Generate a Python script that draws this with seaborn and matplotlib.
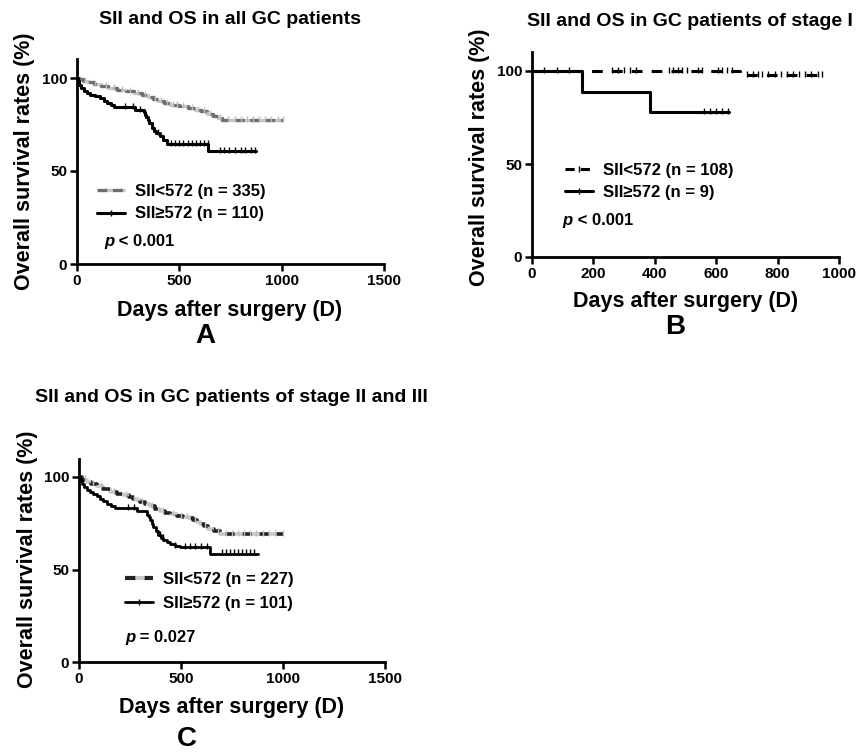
import numpy as np
import pandas as pd
import matplotlib
matplotlib.use("Agg")
import matplotlib.pyplot as plt
import seaborn as sns
from matplotlib.lines import Line2D

W, H = 859, 753

# --- A: all GC patients ---
a_low_t = [0, 10, 30, 55, 85, 115, 150, 195, 240, 280, 320, 345, 370, 395, 425, 455,
           500, 540, 575, 605, 635, 665, 690, 710]
a_low_s = [100, 99.2, 98.4, 97.6, 96.8, 95.6, 94.8, 93.6, 92.8, 91.8, 90.8, 89.8, 88.8,
           87.6, 86.6, 85.6, 84.8, 83.8, 83.0, 82.0, 80.8, 79.6, 78.4, 77.4]
a_low_end = 1005
a_low_cens = [40, 90, 140, 180, 220, 260, 300, 330, 380, 410, 440, 470, 490, 520, 560, 590,
              620, 650, 700, 740, 770, 800, 830, 860, 890, 920, 950, 980, 1005]
a_high_t = [0, 3, 8, 20, 32, 50, 65, 90, 114, 130, 146, 165, 179, 284, 325, 332, 338, 345,
            352, 365, 375, 388, 406, 422, 438, 641]
a_high_s = [100, 98.2, 96.4, 94.5, 92.8, 91.9, 91.0, 90.1, 89.2, 87.8, 86.4, 85.4, 84.4,
            83.0, 81.6, 80.3, 78.8, 77.3, 75.8, 73.1, 71.7, 70.4, 68.6, 66.8, 64.7, 60.6]
a_high_end = 877
a_high_cens = [235, 276, 310, 395, 460, 480, 500, 520, 540, 560, 580, 600, 620, 640,
               700, 720, 745, 770, 800, 820, 850, 870]

# --- B: stage I ---
b_low_t = [0, 677]
b_low_s = [100, 97.6]
b_low_end = 948
b_low_cens = [40, 80, 120, 260, 280, 300, 320, 340, 445, 460, 475, 490, 505, 540, 555,
              605, 620, 635, 650, 700, 720, 735, 750, 770, 790, 810, 830, 850, 870,
              890, 910, 930, 945]
b_high_t = [0, 162, 385]
b_high_s = [100, 88.9, 77.8]
b_high_end = 642
b_high_cens = [560, 580, 600, 620, 640]

# --- C: stage II and III ---
c_low_t = [0, 15, 38, 60, 87, 120, 152, 185, 217, 245, 266, 285, 299, 325, 348, 372, 397,
           420, 446, 480, 511, 540, 560, 580, 593, 612, 634, 662, 691]
c_low_s = [100, 98.6, 97.3, 96.2, 95.0, 93.4, 91.9, 91.0, 90.1, 89.2, 88.3, 87.4, 86.5,
           85.3, 84.1, 82.9, 81.6, 80.7, 79.8, 79.1, 78.4, 77.6, 76.9, 75.8, 74.8, 73.5,
           72.1, 70.8, 69.4]
c_low_end = 1000
c_low_cens = [30, 70, 110, 170, 230, 270, 310, 360, 410, 460, 500, 530, 570, 620, 680,
              720, 750, 780, 810, 840, 870, 900, 930, 960, 1000]
c_high_t = [0, 4, 13, 25, 38, 55, 70, 88, 103, 120, 136, 155, 176, 283, 335, 342, 348, 356,
            364, 376, 389, 401, 413, 430, 446, 470, 495, 642]
c_high_s = [100, 98.2, 96.4, 94.6, 92.8, 91.9, 91.0, 89.6, 88.3, 87.0, 85.6, 84.5, 83.4,
            81.6, 79.7, 78.2, 76.6, 74.8, 73.0, 70.8, 68.5, 67.1, 65.8, 64.7, 63.6, 62.9,
            62.2, 58.6]
c_high_end = 876
c_high_cens = [240, 270, 395, 410, 470, 520, 545, 570, 600, 625, 700, 720, 740, 760, 780,
               800, 820, 840, 860]

sns.set_theme(style="ticks")
plt.rcParams['font.family'] = ['Liberation Sans', 'DejaVu Sans']
plt.rcParams['font.weight'] = 'bold'
plt.rcParams['text.color'] = 'black'
plt.rcParams['axes.labelcolor'] = 'black'
plt.rcParams['xtick.color'] = 'black'
plt.rcParams['ytick.color'] = 'black'


def px_box(x0, y0, x1, y1):
    return [x0 / W, 1 - y1 / H, (x1 - x0) / W, (y1 - y0) / H]


def draw_curve(ax, t, s, t_end, cens, color, lw, dashes=None, gap=None, cens_color=None):
    df = pd.DataFrame({"day": t + [t_end], "surv": s + [s[-1]]})
    sns.lineplot(data=df, x="day", y="surv", ax=ax, color=color, lw=lw,
                 drawstyle="steps-post", estimator=None, sort=False, zorder=3)
    line = ax.lines[-1]
    if dashes:
        line.set_dashes(dashes)
    if gap:
        line.set_gapcolor(gap)
    # survival value at each censor time
    idx = np.searchsorted(t, cens, side="right") - 1
    ys = np.array(s)[idx]
    sns.scatterplot(x=cens, y=ys + 0.6, ax=ax, marker="|", s=16,
                    color=cens_color or color, linewidth=1.0, zorder=4, legend=False)


def style_axes(ax, xmax, xticks):
    ax.set_xlim(0, xmax)
    ax.set_ylim(0, 110)
    ax.set_xticks(xticks)
    ax.set_yticks([0, 50, 100])
    ax.set_xlabel("")
    ax.set_ylabel("")
    sns.despine(ax=ax)
    for sp in ["left", "bottom"]:
        ax.spines[sp].set_linewidth(2)
        ax.spines[sp].set_color("black")
    ax.tick_params(direction="out", length=5, width=1.8, color="black",
                   labelsize=11, labelcolor="black", pad=2)
    for lab in ax.get_xticklabels() + ax.get_yticklabels():
        lab.set_fontweight("bold")


def add_legend(ax, handles, labels, fx, fy, spacing, ptxt, px_, py_):
    leg = ax.legend(handles, labels, loc="center left", bbox_to_anchor=(fx, fy), frameon=False,
                    borderpad=0, borderaxespad=0, handlelength=1.7, handletextpad=0.6,
                    labelspacing=spacing, prop={"weight": "bold", "size": 12})
    for txt in leg.get_texts():
        txt.set_color("black")
    t = ax.text(px_, py_, "p", transform=ax.transAxes, fontsize=12, fontweight="bold",
                style="italic", va="center", ha="left", color="black")
    ax.annotate(ptxt, xy=(1, 0), xycoords=t, va="bottom", ha="left",
                fontsize=12, fontweight="bold", color="black")


fig = plt.figure(figsize=(W / 100, H / 100), dpi=100)

# ---------- A ----------
axA = fig.add_axes(px_box(77, 59.4, 384, 264))
draw_curve(axA, a_low_t, a_low_s, a_low_end, a_low_cens, "#6e6e6e", 2.4,
           dashes=[3, 1.6], gap="#c8c8c8", cens_color="#bdbdbd")
draw_curve(axA, a_high_t, a_high_s, a_high_end, a_high_cens, "black", 2.2)
style_axes(axA, 1500, [0, 500, 1000, 1500])
hA = [Line2D([], [], color="#6e6e6e", lw=2.4, dashes=[3, 1.6], gapcolor="#c8c8c8"),
      Line2D([], [], color="black", lw=2.2, marker="|", markersize=5)]
add_legend(axA, hA, ["SII<572 (n = 335)", "SII\u2265572 (n = 110)"],
           0.065, 0.30, 0.45, " < 0.001", 0.088, 0.108)

# ---------- B ----------
axB = fig.add_axes(px_box(532, 52.4, 839, 257))
draw_curve(axB, b_low_t, b_low_s, b_low_end, b_low_cens, "black", 2.2,
           dashes=[3.5, 3])
draw_curve(axB, b_high_t, b_high_s, b_high_end, b_high_cens, "black", 2.2)
style_axes(axB, 1000, [0, 200, 400, 600, 800, 1000])
hB = [Line2D([], [], color="black", lw=2.2, dashes=[3, 2], marker="|", markersize=4),
      Line2D([], [], color="black", lw=2.2, marker="|", markersize=5)]
add_legend(axB, hB, ["SII<572 (n = 108)", "SII\u2265572 (n = 9)"],
           0.107, 0.369, 0.45, " < 0.001", 0.10, 0.18)

# ---------- C ----------
axC = fig.add_axes(px_box(79, 458.5, 385, 662))
draw_curve(axC, c_low_t, c_low_s, c_low_end, c_low_cens, "#222222", 2.6,
           dashes=[2.5, 2.2], gap="#c8c8c8", cens_color="#bdbdbd")
draw_curve(axC, c_high_t, c_high_s, c_high_end, c_high_cens, "black", 2.0)
style_axes(axC, 1500, [0, 500, 1000, 1500])
hC = [Line2D([], [], color="#222222", lw=3, dashes=[2.5, 2.2], gapcolor="#c8c8c8"),
      Line2D([], [], color="black", lw=2.0, marker="|", markersize=5)]
add_legend(axC, hC, ["SII<572 (n = 227)", "SII\u2265572 (n = 101)"],
           0.15, 0.346, 0.55, " = 0.027", 0.15, 0.118)

# ---------- titles, axis labels, panel letters ----------
def ftext(x, y, s, size, rot=0):
    fig.text(x / W, 1 - y / H, s, fontsize=size, fontweight="bold", rotation=rot,
             ha="center", va="center", color="black")


ftext(230, 20, "SII and OS in all GC patients", 14)
ftext(690, 22, "SII and OS in GC patients of stage I", 14)
ftext(231, 398, "SII and OS in GC patients of stage II and III", 14)

ftext(25, 161, "Overall survival rates (%)", 15.5, rot=90)
ftext(480, 157, "Overall survival rates (%)", 15.5, rot=90)
ftext(28, 559, "Overall survival rates (%)", 15.5, rot=90)

ftext(230, 310, "Days after surgery (D)", 15.5)
ftext(686, 302, "Days after surgery (D)", 15.5)
ftext(232, 707, "Days after surgery (D)", 15.5)

ftext(205, 336, "A", 20)
ftext(675, 327, "B", 20)
ftext(187, 739, "C", 20)

fig.savefig("out.png", dpi=100)
